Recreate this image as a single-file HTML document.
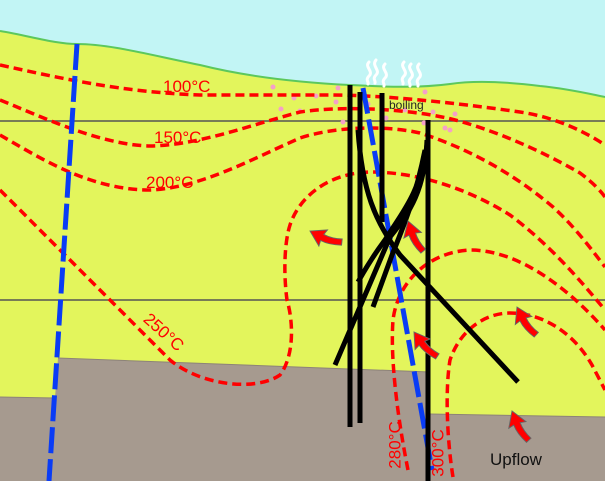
<!DOCTYPE html>
<html><head><meta charset="utf-8"><style>
html,body{margin:0;padding:0;background:#fff}
svg{display:block}
text{font-family:"Liberation Sans",sans-serif}
</style></head><body>
<svg width="605" height="481" viewBox="0 0 605 481" xmlns="http://www.w3.org/2000/svg">
<defs>
<g id="arr">
<path d="M0,0 L-8,13 L-3,12 C-3,18 -1,24 2,30 L7,28 C4,22 3,17 3,12 L8,13 Z" fill="#f00" stroke="#666" stroke-width="0.8"/>
</g>
</defs>
<rect width="605" height="481" fill="#c2f5f5"/>
<path d="M0,31 C30,36 55,44 77,44 C110,44 150,55 200,65 C240,75 290,82 350,85 C390,87 420,88 450,84 C470,81 500,81 540,86 C570,89 590,94 605,97 L605,481 L0,481 Z" fill="#e3f55c"/>
<path d="M0,31 C30,36 55,44 77,44 C110,44 150,55 200,65 C240,75 290,82 350,85 C390,87 420,88 450,84 C470,81 500,81 540,86 C570,89 590,94 605,97" fill="none" stroke="#5cc85c" stroke-width="2"/>
<path d="M0,397 L55,398 L58,358 L430,372 L430,414 L605,417 L605,481 L0,481 Z" fill="#a69a8f"/>
<path d="M0,397 L55,398 M58,358 L430,372 M430,414 L605,417" stroke="#8d8378" stroke-width="1" fill="none"/>
<line x1="0" y1="121" x2="605" y2="121" stroke="#555" stroke-width="1.5"/>
<line x1="0" y1="300" x2="605" y2="300" stroke="#555" stroke-width="1.5"/>
<g fill="#f5a0c8">
<circle cx="273" cy="87" r="2.5"/><circle cx="294" cy="98" r="2.5"/><circle cx="281" cy="109" r="2.5"/><circle cx="300" cy="111" r="2.5"/><circle cx="316" cy="96" r="2.5"/><circle cx="338" cy="88" r="2.5"/><circle cx="336" cy="102" r="2.5"/><circle cx="343" cy="122" r="2.5"/><circle cx="368" cy="104" r="2.5"/><circle cx="386" cy="118" r="2.5"/><circle cx="405" cy="110" r="2.5"/><circle cx="425" cy="92" r="2.5"/><circle cx="433" cy="112" r="2.5"/><circle cx="424" cy="123" r="2.5"/><circle cx="445" cy="128" r="2.5"/><circle cx="455" cy="114" r="2.5"/><circle cx="450" cy="130" r="2.5"/>
</g>
<g fill="none" stroke="#f00" stroke-width="3.5" stroke-dasharray="9,5">
<path d="M0,65 C60,78 120,92 200,95 L330,95 C380,95 450,102 520,112 C560,118 590,135 605,145"/>
<path d="M0,100 C40,116 100,145 150,146 C200,145 250,125 300,112 C340,106 400,108 447,118 C490,128 540,150 580,173 C592,182 600,190 605,197"/>
<path d="M0,135 C40,158 90,190 150,190 C200,188 250,160 300,138 C330,128 380,124 420,133 C467,148 513,173 553,207 C575,227 592,250 605,267"/>
<path d="M0,190 L50,240 L170,360 C200,385 255,392 280,375 C295,355 293,320 287,300 C283,270 285,240 290,225 C300,195 330,173 370,172 C420,172 470,190 510,215 C550,245 580,280 605,310"/>
<path d="M408,470 C398,420 390,360 393,320 C398,280 430,252 470,250 C520,250 570,290 605,330"/>
<path d="M453,477 C447,440 445,390 450,360 C460,330 485,313 510,313 C545,313 575,335 592,365 L605,390"/>
</g>
<g fill="none" stroke="#0a3cf5" stroke-width="5" stroke-dasharray="26,6">
<path d="M77,44 L49,481"/>
<path d="M363,88 L432,470"/>
</g>
<g fill="none" stroke="#000" stroke-width="5" stroke-linecap="butt">
<path d="M350,85 L350,427"/>
<path d="M360,92 L360,423"/>
<path d="M382,93 L382,222"/>
<path d="M428,120 L428,481"/>
<path d="M358,130 C362,190 375,222 400,255 L518,382"/>
<path d="M427,140 C425,190 410,212 390,237 L335,365"/>
<path d="M427,145 C420,195 400,215 385,240 C370,260 362,275 358,282"/>
<path d="M425,150 C415,200 402,230 392,255 L373,307"/>
</g>
<g fill="none" stroke="#fff" stroke-width="3" stroke-linecap="round">
<path d="M369,62 C364,67 374,71 369,76 C365,80 369,82 368,84"/>
<path d="M376,60 C371,66 381,70 376,75 C372,79 376,81 375,83"/>
<path d="M385,64 C380,69 390,73 385,78 C381,82 385,84 384,86"/>
<path d="M404,62 C399,67 409,71 404,76 C400,80 404,82 403,84"/>
<path d="M411,64 C406,69 416,73 411,78 C407,82 411,84 410,86"/>
<path d="M419,64 C414,69 424,73 419,78 C415,82 419,84 418,86"/>
</g>
<use href="#arr" transform="translate(310,231) rotate(-62) scale(1.15)"/>
<use href="#arr" transform="translate(408,221) rotate(-18) scale(1.15)"/>
<use href="#arr" transform="translate(414,332) rotate(-35) scale(1.15)"/>
<use href="#arr" transform="translate(517,307) rotate(-26) scale(1.15)"/>
<use href="#arr" transform="translate(512,411) rotate(-21) scale(1.15)"/>
<g fill="#f00" font-size="17">
<text x="163" y="92">100°C</text>
<text x="154" y="143">150°C</text>
<text x="146" y="188">200°C</text>
<text transform="translate(163,333) rotate(42)" text-anchor="middle" dominant-baseline="middle">250°C</text>
<text transform="translate(396,445) rotate(-90)" text-anchor="middle" dominant-baseline="middle">280°C</text>
<text transform="translate(439,453) rotate(-90)" text-anchor="middle" dominant-baseline="middle">300°C</text>
</g>
<text x="389" y="109" font-size="12" fill="#222">boiling</text>
<text x="490" y="465" font-size="17" fill="#111">Upflow</text>
</svg>
</body></html>
